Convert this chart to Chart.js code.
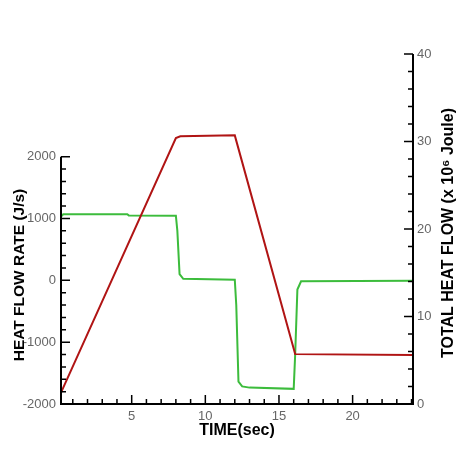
<!DOCTYPE html>
<html>
<head>
<meta charset="utf-8">
<script src="https://cdn.jsdelivr.net/npm/chart.js@4/dist/chart.umd.min.js"></script>
<style>
  html, body { margin: 0; padding: 0; background: #fff; }
  #wrap { width: 470px; height: 454px; }
</style>
</head>
<body>
<div id="wrap"><canvas id="myChart"></canvas></div>
<script>
// Heat flow rate (green, left axis)
const rateTime = [0.2, 0.35, 4.7, 4.8, 8.0, 8.1, 8.25, 8.5, 12.0, 12.1, 12.25, 12.5, 13.0, 16.0, 16.1, 16.25, 16.5, 24.1];
const rateValues = [1030, 1068, 1068, 1050, 1045, 800, 100, 25, 10, -400, -1640, -1715, -1735, -1755, -1200, -150, -15, -8];

// Total heat flow (red, right axis, x 10^6 J)
const totalTime = [0.2, 8.0, 8.3, 12.0, 16.1, 24.1];
const totalValues = [1.3, 30.4, 30.6, 30.7, 5.7, 5.6];

// Tick labels
const timeTicks = [5, 10, 15, 20];
const rateTicks = [-2000, -1000, 0, 1000, 2000];
const totalTicks = [0, 10, 20, 30, 40];

const tickFont = { family: 'Liberation Sans, Arial, sans-serif', size: 13 };
const tickColor = '#666';

function pointsOf(xs, ys) {
  return xs.map((x, i) => ({ x: x, y: ys[i] }));
}

// axis lines, inward tick marks and the two vertical titles
const axisPlugin = {
  id: 'axisPlugin',
  afterDraw(chart) {
    const ctx = chart.ctx;
    const xs = chart.scales.x, yl = chart.scales.yL, yr = chart.scales.yR;
    const bottom = yl.getPixelForValue(rateTicks[0]);
    ctx.save();
    ctx.strokeStyle = '#000';
    ctx.lineWidth = 2;
    ctx.beginPath();
    ctx.moveTo(xs.left - 1, bottom); ctx.lineTo(xs.right + 1, bottom);
    ctx.moveTo(xs.left, bottom); ctx.lineTo(xs.left, yl.getPixelForValue(rateTicks[rateTicks.length - 1]));
    ctx.moveTo(xs.right, bottom); ctx.lineTo(xs.right, yr.getPixelForValue(totalTicks[totalTicks.length - 1]));
    ctx.stroke();

    ctx.lineWidth = 1.5;
    ctx.beginPath();
    // time ticks (every 1 s, major every 5)
    for (let t = 1; t <= 24; t++) {
      const px = xs.getPixelForValue(t);
      const len = t % 5 === 0 ? 9 : 5;
      ctx.moveTo(px, bottom); ctx.lineTo(px, bottom - len);
    }
    // heat flow rate ticks (every 200, major every 1000)
    for (let v = -2000; v <= 2000; v += 200) {
      const py = yl.getPixelForValue(v);
      const len = v % 1000 === 0 ? 9 : 5;
      ctx.moveTo(xs.left, py); ctx.lineTo(xs.left + len, py);
    }
    // total heat flow ticks (every 2, major every 10)
    for (let v = 0; v <= 40; v += 2) {
      const py = yr.getPixelForValue(v);
      const len = v % 10 === 0 ? 9 : 5;
      ctx.moveTo(xs.right, py); ctx.lineTo(xs.right - len, py);
    }
    ctx.stroke();

    ctx.fillStyle = '#000';
    ctx.textAlign = 'center';
    ctx.textBaseline = 'middle';
    ctx.save();
    ctx.translate(20, 275);
    ctx.rotate(-Math.PI / 2);
    ctx.font = 'bold 15.5px Liberation Sans, Arial, sans-serif';
    ctx.fillText('HEAT FLOW RATE (J/s)', 0, 0);
    ctx.restore();
    ctx.save();
    ctx.translate(449, 233);
    ctx.rotate(-Math.PI / 2);
    ctx.font = 'bold 16px Liberation Sans, Arial, sans-serif';
    ctx.fillText('TOTAL HEAT FLOW (x 10\u2076 Joule)', 0, 0);
    ctx.restore();
    ctx.restore();
  }
};

const plainLabel = (v) => String(v);

const config = {
  type: 'line',
  data: {
    datasets: [
      {
        label: 'Total heat flow',
        data: pointsOf(totalTime, totalValues),
        yAxisID: 'yR',
        borderColor: '#b01414',
        borderWidth: 2,
        pointRadius: 0,
        tension: 0
      },
      {
        label: 'Heat flow rate',
        data: pointsOf(rateTime, rateValues),
        yAxisID: 'yL',
        borderColor: '#3cbc3c',
        borderWidth: 2,
        pointRadius: 0,
        tension: 0
      }
    ]
  },
  options: {
    responsive: true,
    maintainAspectRatio: false,
    animation: false,
    layout: { padding: { top: 54, left: 0, right: 0, bottom: 0 } },
    plugins: { legend: { display: false }, tooltip: { enabled: false } },
    scales: {
      x: {
        type: 'linear',
        min: 0.2,
        max: 24.1,
        afterBuildTicks: (s) => { s.ticks = timeTicks.map(v => ({ value: v })); },
        afterFit: (s) => { s.height = 50; },
        grid: { display: false, drawTicks: false },
        border: { display: false },
        ticks: { font: tickFont, color: tickColor, padding: 5, maxRotation: 0, callback: plainLabel },
        title: {
          display: true,
          text: 'TIME(sec)',
          color: '#000',
          font: { family: 'Liberation Sans, Arial, sans-serif', size: 16, weight: 'bold' },
          padding: { top: 0, bottom: 14 }
        }
      },
      yL: {
        type: 'linear',
        position: 'left',
        min: -2000,
        max: 3660,
        afterBuildTicks: (s) => { s.ticks = rateTicks.map(v => ({ value: v })); },
        afterFit: (s) => { s.width = 61; },
        grid: { display: false, drawTicks: false },
        border: { display: false },
        ticks: { font: tickFont, color: tickColor, padding: 5, callback: plainLabel }
      },
      yR: {
        type: 'linear',
        position: 'right',
        min: 0,
        max: 40,
        afterBuildTicks: (s) => { s.ticks = totalTicks.map(v => ({ value: v })); },
        afterFit: (s) => { s.width = 57; },
        grid: { display: false, drawTicks: false },
        border: { display: false },
        ticks: { font: tickFont, color: tickColor, padding: 4, callback: plainLabel }
      }
    }
  },
  plugins: [axisPlugin]
};

var myChart = new Chart(document.getElementById('myChart'), config);
</script>
</body>
</html>
